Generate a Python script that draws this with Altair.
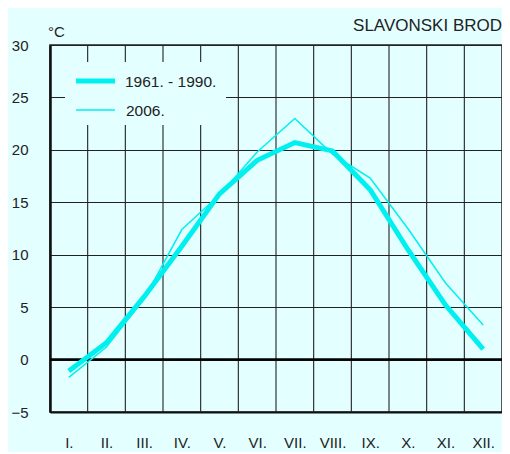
import altair as alt
import pandas as pd

months = ["I.", "II.", "III.", "IV.", "V.", "VI.", "VII.", "VIII.", "IX.", "X.", "XI.", "XII."]
normal_1961_1990 = [-1.1, 1.6, 6.0, 10.8, 15.8, 19.0, 20.7, 19.9, 16.2, 10.5, 5.2, 1.0]
year_2006 = [-1.7, 1.2, 5.8, 12.4, 15.7, 19.8, 23.0, 19.6, 17.3, 12.5, 7.3, 3.3]
series_names = ["1961. - 1990.", "2006."]
y_ticks = [-5, 0, 5, 10, 15, 20, 25, 30]
x_edges = [1, 2, 3, 4, 5, 6, 7, 8, 9, 10, 11]
station = "SLAVONSKI BROD"
unit = "°C"

BG = "#E3FFFF"
CYAN = "#00F0F0"
FONT = "Liberation Sans"
W = 452
H = 367

df1 = pd.DataFrame({"x": [i + 0.5 for i in range(12)], "v": normal_1961_1990})
df2 = pd.DataFrame({"x": [i + 0.5 for i in range(12)], "v": year_2006})
edges = pd.DataFrame({"x": x_edges})
zero = pd.DataFrame({"y": [0]})
one = pd.DataFrame({"a": [0]})

label_expr = "[" + ",".join("'" + m + "'" for m in months) + "][floor(datum.value)]"

xs = alt.Scale(domain=[0, 12], nice=False, zero=False)
ys = alt.Scale(domain=[-5, 30], nice=False, zero=False)

xaxis = alt.Axis(values=[i + 0.5 for i in range(12)], labelExpr=label_expr, grid=False, ticks=False,
                 domainColor="#111", domainWidth=2, labelFont=FONT, labelFontSize=15,
                 labelColor="#222", labelPadding=23, title=None)
yaxis = alt.Axis(values=y_ticks, grid=True, gridColor="#222", gridWidth=1.1, ticks=False,
                 domainColor="#111", domainWidth=2.5, labelFont=FONT, labelFontSize=15,
                 labelColor="#222", labelPadding=22, title=None)

vgrid = alt.Chart(edges).mark_rule(color="#222", strokeWidth=1.1).encode(
    x=alt.X("x:Q", scale=xs, axis=xaxis))
zline = alt.Chart(zero).mark_rule(color="#000", strokeWidth=2.5).encode(
    y=alt.Y("y:Q", scale=ys, axis=yaxis))

leg_rect = alt.Chart(one).mark_rect(fill=BG).encode(
    x=alt.value(15), x2=alt.value(176), y=alt.value(17), y2=alt.value(80))
leg_l1 = alt.Chart(one).mark_rule(color=CYAN, strokeWidth=5).encode(
    x=alt.value(26), x2=alt.value(65), y=alt.value(36))
leg_l2 = alt.Chart(one).mark_rule(color=CYAN, strokeWidth=1.5).encode(
    x=alt.value(26), x2=alt.value(65), y=alt.value(65))
leg_t1 = alt.Chart(pd.DataFrame({"t": [series_names[0]]})).mark_text(
    align="left", baseline="middle", font=FONT, fontSize=15.5, color="#222").encode(
    x=alt.value(75), y=alt.value(37), text="t:N")
leg_t2 = alt.Chart(pd.DataFrame({"t": [series_names[1]]})).mark_text(
    align="left", baseline="middle", font=FONT, fontSize=15.5, color="#222").encode(
    x=alt.value(76), y=alt.value(66), text="t:N")

title_t = alt.Chart(pd.DataFrame({"t": [station]})).mark_text(
    align="right", baseline="alphabetic", font=FONT, fontSize=17, color="#222").encode(
    x=alt.value(W), y=alt.value(-14), text="t:N")
unit_t = alt.Chart(pd.DataFrame({"t": [unit]})).mark_text(
    align="left", baseline="alphabetic", font=FONT, fontSize=15, color="#222").encode(
    x=alt.value(-2), y=alt.value(-8), text="t:N")

line1 = alt.Chart(df1).mark_line(color=CYAN, strokeWidth=5).encode(
    x=alt.X("x:Q", scale=xs), y=alt.Y("v:Q", scale=ys))
line2 = alt.Chart(df2).mark_line(color=CYAN, strokeWidth=1.5).encode(
    x=alt.X("x:Q", scale=xs), y=alt.Y("v:Q", scale=ys))

chart = alt.layer(vgrid, zline, leg_rect, leg_l1, leg_l2, leg_t1, leg_t2,
                  line1, line2, title_t, unit_t).properties(
    width=W, height=H,
    autosize=alt.AutoSizeParams(type="none"),
    padding={"left": 42, "top": 37, "right": 0, "bottom": 40},
    background=BG,
).configure_view(fill=BG, stroke="#222", strokeWidth=1.5)

chart.save("out.html", embed_options={"renderer": "svg", "actions": False})
